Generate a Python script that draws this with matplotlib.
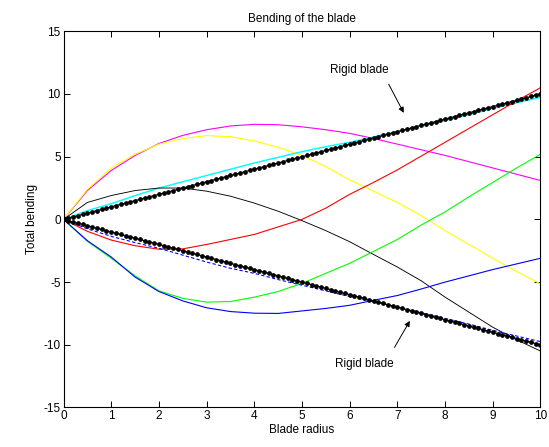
import matplotlib
matplotlib.use("Agg")
import matplotlib.pyplot as plt

plt.rcParams['font.family'] = ['Liberation Sans', 'DejaVu Sans']
plt.rcParams['axes.unicode_minus'] = False

# Blade radius sample points for the flexible-blade curves
radius = [0.0, 0.5, 1.0, 1.5, 2.0, 2.5, 3.0, 3.5, 4.0, 4.5, 5.0,
          5.5, 6.0, 6.5, 7.0, 7.5, 8.0, 8.5, 9.0, 9.5, 10.0]

magenta_y = [0, 2.3, 3.9, 5.1, 6.05, 6.7, 7.15, 7.45, 7.58, 7.55, 7.38,
             7.15, 6.86, 6.45, 6.0, 5.55, 5.1, 4.6, 4.1, 3.6, 3.1]
yellow_y = [0, 2.4, 4.1, 5.2, 6.0, 6.45, 6.68, 6.6, 6.25, 5.75, 5.1,
            4.2, 3.15, 2.25, 1.35, 0.3, -0.9, -2.0, -3.1, -4.15, -5.15]
cyan_y = [0, 0.7, 1.25, 1.9, 2.5, 3.0, 3.5, 4.0, 4.5, 4.95, 5.4,
          5.8, 6.15, 6.58, 7.0, 7.45, 7.9, 8.35, 8.85, 9.3, 9.73]
black_y = [0, 1.35, 1.9, 2.3, 2.5, 2.5, 2.25, 1.85, 1.3, 0.65, -0.1,
           -0.9, -1.78, -2.8, -3.8, -4.9, -6.2, -7.4, -8.6, -9.6, -10.5]
red_y = [0, -0.95, -1.65, -2.1, -2.38, -2.35, -2.0, -1.6, -1.2, -0.6, 0.0,
         0.9, 2.0, 2.95, 3.95, 5.05, 6.15, 7.25, 8.35, 9.45, 10.5]
green_y = [0, -1.75, -3.1, -4.5, -5.7, -6.3, -6.6, -6.55, -6.2, -5.75, -5.1,
           -4.3, -3.5, -2.55, -1.6, -0.45, 0.6, 1.8, 2.95, 4.1, 5.2]
blue_y = [0, -1.7, -3.0, -4.6, -5.75, -6.5, -7.05, -7.35, -7.48, -7.5, -7.3,
          -7.1, -6.85, -6.45, -6.07, -5.55, -5.0, -4.5, -4.0, -3.55, -3.1]
bluedash_y = [0, -0.75, -1.35, -1.85, -2.3, -2.85, -3.4, -3.9, -4.3, -4.8, -5.25,
              -5.7, -6.15, -6.55, -7.0, -7.45, -7.9, -8.35, -8.85, -9.3, -9.75]

# Rigid blade lines (dotted)
rigid_r = [0.0, 0.1, 0.2, 0.3, 0.4, 0.5, 0.6, 0.7, 0.8, 0.9,
           1.0, 1.1, 1.2, 1.3, 1.4, 1.5, 1.6, 1.7, 1.8, 1.9,
           2.0, 2.1, 2.2, 2.3, 2.4, 2.5, 2.6, 2.7, 2.8, 2.9,
           3.0, 3.1, 3.2, 3.3, 3.4, 3.5, 3.6, 3.7, 3.8, 3.9,
           4.0, 4.1, 4.2, 4.3, 4.4, 4.5, 4.6, 4.7, 4.8, 4.9,
           5.0, 5.1, 5.2, 5.3, 5.4, 5.5, 5.6, 5.7, 5.8, 5.9,
           6.0, 6.1, 6.2, 6.3, 6.4, 6.5, 6.6, 6.7, 6.8, 6.9,
           7.0, 7.1, 7.2, 7.3, 7.4, 7.5, 7.6, 7.7, 7.8, 7.9,
           8.0, 8.1, 8.2, 8.3, 8.4, 8.5, 8.6, 8.7, 8.8, 8.9,
           9.0, 9.1, 9.2, 9.3, 9.4, 9.5, 9.6, 9.7, 9.8, 9.9, 10.0]
rigid_up = [0.0, 0.1, 0.2, 0.3, 0.4, 0.5, 0.6, 0.7, 0.8, 0.9,
            1.0, 1.1, 1.2, 1.3, 1.4, 1.5, 1.6, 1.7, 1.8, 1.9,
            2.0, 2.1, 2.2, 2.3, 2.4, 2.5, 2.6, 2.7, 2.8, 2.9,
            3.0, 3.1, 3.2, 3.3, 3.4, 3.5, 3.6, 3.7, 3.8, 3.9,
            4.0, 4.1, 4.2, 4.3, 4.4, 4.5, 4.6, 4.7, 4.8, 4.9,
            5.0, 5.1, 5.2, 5.3, 5.4, 5.5, 5.6, 5.7, 5.8, 5.9,
            6.0, 6.1, 6.2, 6.3, 6.4, 6.5, 6.6, 6.7, 6.8, 6.9,
            7.0, 7.1, 7.2, 7.3, 7.4, 7.5, 7.6, 7.7, 7.8, 7.9,
            8.0, 8.1, 8.2, 8.3, 8.4, 8.5, 8.6, 8.7, 8.8, 8.9,
            9.0, 9.1, 9.2, 9.3, 9.4, 9.5, 9.6, 9.7, 9.8, 9.9, 10.0]
rigid_down = [-0.0, -0.1, -0.2, -0.3, -0.4, -0.5, -0.6, -0.7, -0.8, -0.9,
              -1.0, -1.1, -1.2, -1.3, -1.4, -1.5, -1.6, -1.7, -1.8, -1.9,
              -2.0, -2.1, -2.2, -2.3, -2.4, -2.5, -2.6, -2.7, -2.8, -2.9,
              -3.0, -3.1, -3.2, -3.3, -3.4, -3.5, -3.6, -3.7, -3.8, -3.9,
              -4.0, -4.1, -4.2, -4.3, -4.4, -4.5, -4.6, -4.7, -4.8, -4.9,
              -5.0, -5.1, -5.2, -5.3, -5.4, -5.5, -5.6, -5.7, -5.8, -5.9,
              -6.0, -6.1, -6.2, -6.3, -6.4, -6.5, -6.6, -6.7, -6.8, -6.9,
              -7.0, -7.1, -7.2, -7.3, -7.4, -7.5, -7.6, -7.7, -7.8, -7.9,
              -8.0, -8.1, -8.2, -8.3, -8.4, -8.5, -8.6, -8.7, -8.8, -8.9,
              -9.0, -9.1, -9.2, -9.3, -9.4, -9.5, -9.6, -9.7, -9.8, -9.9, -10.0]

x_ticks = [0, 1, 2, 3, 4, 5, 6, 7, 8, 9, 10]
y_ticks = [-15, -10, -5, 0, 5, 10, 15]

fig = plt.figure(figsize=(5.49, 4.47), dpi=100)
ax = fig.add_axes([0.1157, 0.0884, 0.8688, 0.8416])

lw = 0.8
ax.plot(radius, magenta_y, color=(1, 0, 1), lw=lw)
ax.plot(radius, yellow_y, color=(1, 1, 0), lw=lw)
ax.plot(radius, cyan_y, color=(0, 1, 1), lw=lw * 1.3)
ax.plot(radius, black_y, color='k', lw=lw * 0.8)
ax.plot(radius, red_y, color=(1, 0, 0), lw=lw)
ax.plot(radius, green_y, color=(0, 1, 0), lw=lw)
ax.plot(radius, blue_y, color=(0, 0, 1), lw=lw)
ax.plot(radius, bluedash_y, color=(0, 0, 1), lw=lw, linestyle=(0, (3, 2)))

ax.plot(rigid_r, rigid_up, color='k', lw=0.8, marker='o', markersize=2.4, zorder=5)
ax.plot(rigid_r, rigid_down, color='k', lw=0.8, marker='o', markersize=2.4, zorder=5)

ax.set_xlim(0, 10)
ax.set_ylim(-15, 15)
ax.set_xticks(x_ticks)
ax.set_yticks(y_ticks)
ax.tick_params(direction='in', length=4, width=0.7, top=True, right=True,
               labelsize=8.5, pad=2)
for s in ax.spines.values():
    s.set_linewidth(0.8)

ax.set_title('Bending of the blade', fontsize=8.5, pad=7)
ax.set_xlabel('Blade radius', fontsize=8.5, labelpad=1)
ax.set_ylabel('Total bending', fontsize=8.5, labelpad=4)

arrowprops = dict(arrowstyle='-|>', color='k', lw=0.7, mutation_scale=8)
ax.annotate('', xy=(7.16, 8.3), xytext=(6.79, 10.98), arrowprops=arrowprops)
ax.text(6.2, 11.9, 'Rigid blade', fontsize=8.5, ha='center', va='center')
ax.annotate('', xy=(7.29, -7.9), xytext=(6.91, -10.4), arrowprops=arrowprops)
ax.text(6.3, -11.5, 'Rigid blade', fontsize=8.5, ha='center', va='center')

fig.savefig('out.png', dpi=100, facecolor='white')
